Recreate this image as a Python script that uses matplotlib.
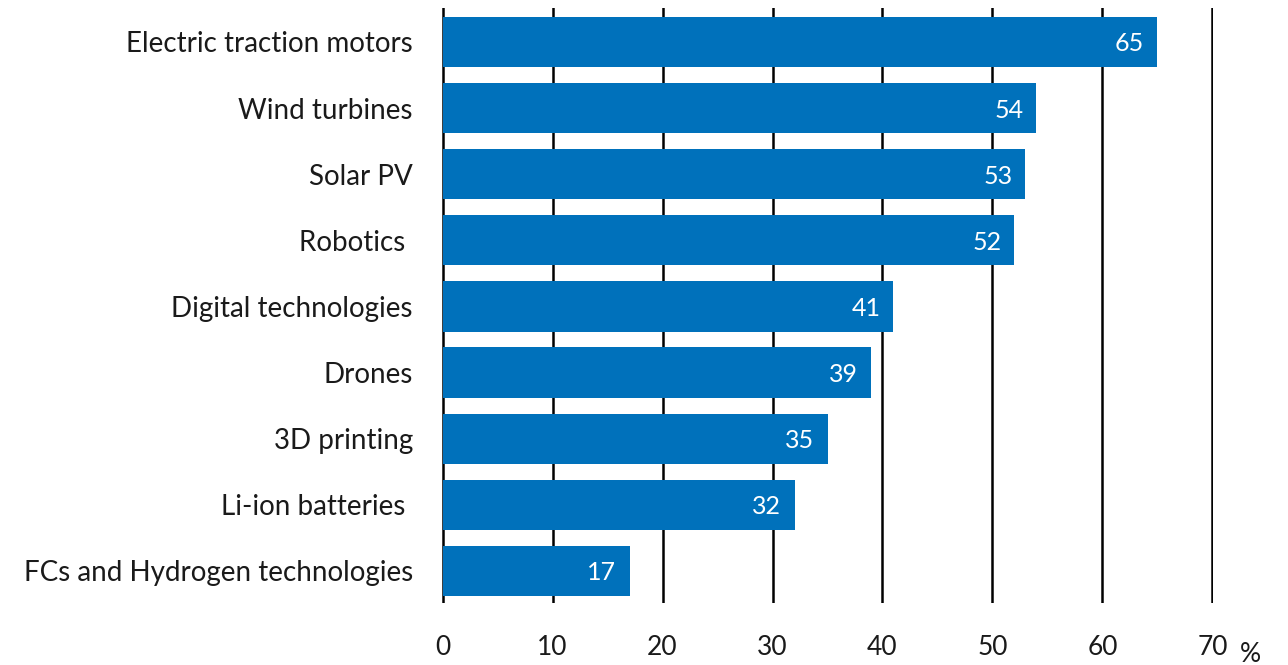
import matplotlib
matplotlib.use("Agg")
import matplotlib.pyplot as plt

categories = ["Electric traction motors", "Wind turbines", "Solar PV", "Robotics ",
              "Digital technologies", "Drones", "3D printing", "Li-ion batteries ",
              "FCs and Hydrogen technologies"]
values = [65, 54, 53, 52, 41, 39, 35, 32, 17]
xticks = [0, 10, 20, 30, 40, 50, 60, 70]

plt.rcParams['font.family'] = ['Lato', 'DejaVu Sans']

fig = plt.figure(figsize=(12.88, 6.65), dpi=100)
ax = fig.add_axes([442/1288, 1-603/665, (1213-442)/1288, 595/665])

pos = list(range(len(categories)))
ax.barh(pos, values, height=0.76, color='#0071bb', zorder=3)
for p, v in zip(pos, values):
    ax.text(v - 1.2, p + 0.03, str(v), color='white', ha='right', va='center', fontsize=18, zorder=4)

for t in xticks:
    ax.axvline(t, color='black', lw=1.8, zorder=1)

ax.set_xlim(-0.05, 70.05)
ax.set_ylim(8.484, -0.514)
ax.set_yticks(pos)
ax.set_yticklabels(categories, fontsize=20, color='#1a1a1a')
ax.set_xticks(xticks)
ax.set_xticklabels([str(t) for t in xticks], fontsize=19, color='#1a1a1a')
ax.tick_params(axis='both', length=0)
ax.tick_params(axis='y', pad=21)
ax.tick_params(axis='x', pad=23)
for s in ax.spines.values():
    s.set_visible(False)
fig.text(1250/1288, 1-655/665, '%', fontsize=19, color='#1a1a1a', ha='center', va='center')

fig.savefig('out.png', dpi=100)
